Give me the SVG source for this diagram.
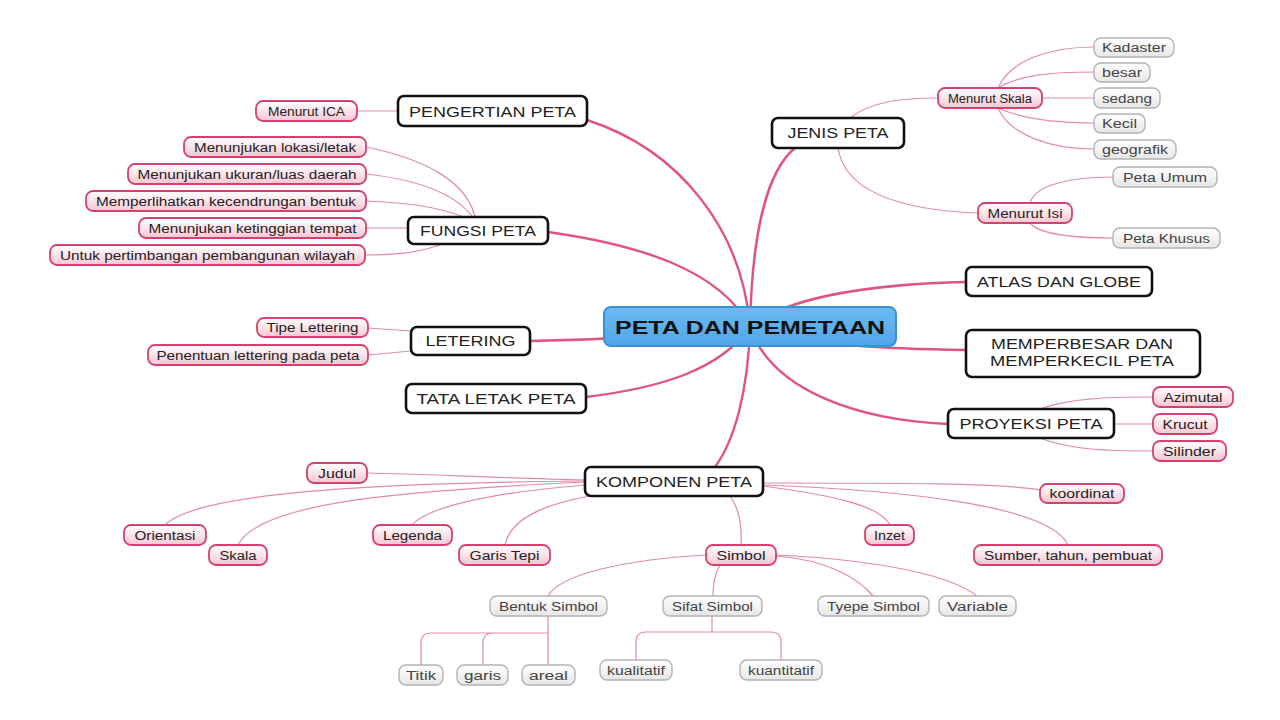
<svg xmlns="http://www.w3.org/2000/svg" width="1280" height="720" viewBox="0 0 1280 720">
<defs>
<linearGradient id="gPink" x1="0" y1="0" x2="0" y2="1"><stop offset="0" stop-color="#ffffff"/><stop offset="1" stop-color="#f7c6d3"/></linearGradient>
<linearGradient id="gGray" x1="0" y1="0" x2="0" y2="1"><stop offset="0" stop-color="#ffffff"/><stop offset="1" stop-color="#e6e6e6"/></linearGradient>
<linearGradient id="gBlue" x1="0" y1="0" x2="0" y2="1"><stop offset="0" stop-color="#6dbaf0"/><stop offset="1" stop-color="#50a6e8"/></linearGradient>
</defs>
<style>
text{font-family:"Liberation Sans",Arial,sans-serif;text-anchor:middle}
.main rect{fill:#fff;stroke:#111;stroke-width:2.6}
.main text{font-size:15px;fill:#222}
.pink rect{fill:url(#gPink);stroke:#d6416b;stroke-width:1.8}
.pink text{font-size:12px;fill:#222}
.gray rect{fill:url(#gGray);stroke:#b3b3b3;stroke-width:1.4}
.gray text{font-size:12px;fill:#444}
.center rect{fill:url(#gBlue);stroke:#3b8fd6;stroke-width:2}
.center text{font-size:19px;font-weight:bold;fill:#111}
.thick{fill:none;stroke:#e0557d;stroke-width:2.4}
.thin{fill:none;stroke:#e28ba4;stroke-width:1.2}
</style>
<rect width="1280" height="720" fill="#ffffff"/>
<g id="connectors">
<path class="thick" d="M750,327 C742,230 680,150 587,120"/>
<path class="thick" d="M750,327 C720,270 640,245 548,232"/>
<path class="thick" d="M750,327 C680,335 600,340 530,341"/>
<path class="thick" d="M750,327 C720,370 660,388 586,397"/>
<path class="thick" d="M750,327 C748,390 735,440 715,467"/>
<path class="thick" d="M750,327 C752,230 768,170 795,148"/>
<path class="thick" d="M750,327 C790,295 880,284 966,282"/>
<path class="thick" d="M750,327 C810,346 890,349 966,350"/>
<path class="thick" d="M750,327 C772,392 860,420 948,424"/>
<path class="thin" d="M398,111 L357,111"/>
<path class="thin" d="M476,222 C470,180 420,158 366,147"/>
<path class="thin" d="M476,222 C460,195 420,180 366,174"/>
<path class="thin" d="M476,222 C450,210 420,203 366,201"/>
<path class="thin" d="M408,228 L366,228"/>
<path class="thin" d="M440,245 C420,252 400,255 365,255"/>
<path class="thin" d="M411,331 L368,328"/>
<path class="thin" d="M411,351 L368,355"/>
<path class="thin" d="M850,118 C870,102 900,98 938,98"/>
<path class="thin" d="M838,148 C845,192 900,210 978,213"/>
<path class="thin" d="M998,88 C1010,60 1050,47 1094,47"/>
<path class="thin" d="M998,88 C1020,75 1050,72 1094,72"/>
<path class="thin" d="M1042,98 L1094,98"/>
<path class="thin" d="M998,108 C1020,118 1050,123 1094,123"/>
<path class="thin" d="M998,108 C1010,135 1050,149 1094,149"/>
<path class="thin" d="M1030,203 C1035,185 1070,177 1113,177"/>
<path class="thin" d="M1030,223 C1040,235 1080,238 1113,238"/>
<path class="thin" d="M1040,409 C1070,398 1110,397 1153,397"/>
<path class="thin" d="M1114,424 L1153,424"/>
<path class="thin" d="M1040,438 C1070,450 1110,451 1153,451"/>
<path class="thin" d="M585,480 C500,478 420,474 367,473"/>
<path class="thin" d="M585,481 C400,483 200,490 165,525"/>
<path class="thin" d="M585,482 C420,490 260,500 238,545"/>
<path class="thin" d="M585,485 C500,492 430,505 412,525"/>
<path class="thin" d="M590,496 C540,505 510,520 505,545"/>
<path class="thin" d="M730,496 C740,510 742,530 741,545"/>
<path class="thin" d="M763,486 C830,495 880,505 890,525"/>
<path class="thin" d="M763,483 C900,483 1000,483 1040,490"/>
<path class="thin" d="M763,485 C900,490 1050,505 1068,545"/>
<path class="thin" d="M706,555 C620,560 560,575 548,596"/>
<path class="thin" d="M720,565 C714,575 713,585 713,596"/>
<path class="thin" d="M776,556 C830,560 860,580 873,596"/>
<path class="thin" d="M776,555 C880,560 950,575 977,596"/>
<path class="thin" d="M548,616 L548,665 M548,633 L431,633 Q421,633 421,643 L421,665 M548,633 L493,633 Q483,633 483,643 L483,665"/>
<path class="thin" d="M712,616 L712,632 M646,632 L771,632 Q781,632 781,642 L781,660 M646,632 Q636,632 636,642 L636,660"/>
</g>
<g id="n-center" class="center"><rect x="604" y="307" width="292" height="39" rx="7"/><text x="750" y="334" textLength="270" lengthAdjust="spacingAndGlyphs">PETA DAN PEMETAAN</text></g>
<g id="n-pengertian" class="main"><rect x="398" y="96" width="189" height="30" rx="6"/><text x="492.5" y="117" textLength="167" lengthAdjust="spacingAndGlyphs">PENGERTIAN PETA</text></g>
<g id="n-fungsi" class="main"><rect x="408" y="217" width="140" height="27" rx="6"/><text x="478" y="236" textLength="116" lengthAdjust="spacingAndGlyphs">FUNGSI PETA</text></g>
<g id="n-letering" class="main"><rect x="411" y="327" width="119" height="28" rx="6"/><text x="470.5" y="346" textLength="90" lengthAdjust="spacingAndGlyphs">LETERING</text></g>
<g id="n-tataletak" class="main"><rect x="406" y="384" width="180" height="29" rx="6"/><text x="496" y="404" textLength="159" lengthAdjust="spacingAndGlyphs">TATA LETAK PETA</text></g>
<g id="n-komponen" class="main"><rect x="585" y="467" width="178" height="29" rx="6"/><text x="674" y="487" textLength="156" lengthAdjust="spacingAndGlyphs">KOMPONEN PETA</text></g>
<g id="n-jenis" class="main"><rect x="772" y="118" width="132" height="30" rx="6"/><text x="838" y="138" textLength="101" lengthAdjust="spacingAndGlyphs">JENIS PETA</text></g>
<g id="n-atlas" class="main"><rect x="966" y="267" width="186" height="29" rx="6"/><text x="1059" y="287" textLength="164" lengthAdjust="spacingAndGlyphs">ATLAS DAN GLOBE</text></g>
<g id="n-memperbesar" class="main"><rect x="966" y="330" width="234" height="47" rx="6"/><text x="1082" y="349" textLength="182" lengthAdjust="spacingAndGlyphs">MEMPERBESAR DAN</text><text x="1082" y="366" textLength="184" lengthAdjust="spacingAndGlyphs">MEMPERKECIL PETA</text></g>
<g id="n-proyeksi" class="main"><rect x="948" y="409" width="166" height="29" rx="6"/><text x="1031" y="429" textLength="143" lengthAdjust="spacingAndGlyphs">PROYEKSI PETA</text></g>
<g id="n-ica" class="pink"><rect x="256" y="101" width="101" height="20" rx="7"/><text x="306.5" y="115.5" textLength="77" lengthAdjust="spacingAndGlyphs">Menurut ICA</text></g>
<g id="n-lokasi" class="pink"><rect x="184" y="137" width="182" height="20" rx="7"/><text x="275" y="151.5" textLength="162" lengthAdjust="spacingAndGlyphs">Menunjukan lokasi/letak</text></g>
<g id="n-ukuran" class="pink"><rect x="128" y="164" width="238" height="20" rx="7"/><text x="247" y="178.5" textLength="219" lengthAdjust="spacingAndGlyphs">Menunjukan ukuran/luas daerah</text></g>
<g id="n-kecendrungan" class="pink"><rect x="86" y="191" width="280" height="20" rx="7"/><text x="226" y="205.5" textLength="260" lengthAdjust="spacingAndGlyphs">Memperlihatkan kecendrungan bentuk</text></g>
<g id="n-ketinggian" class="pink"><rect x="139" y="218" width="227" height="20" rx="7"/><text x="252.5" y="232.5" textLength="208" lengthAdjust="spacingAndGlyphs">Menunjukan ketinggian tempat</text></g>
<g id="n-untuk" class="pink"><rect x="50" y="245" width="315" height="20" rx="7"/><text x="207.5" y="259.5" textLength="295" lengthAdjust="spacingAndGlyphs">Untuk pertimbangan pembangunan wilayah</text></g>
<g id="n-tipe" class="pink"><rect x="257" y="318" width="111" height="19" rx="7"/><text x="312.5" y="332" textLength="92" lengthAdjust="spacingAndGlyphs">Tipe Lettering</text></g>
<g id="n-penentuan" class="pink"><rect x="148" y="345" width="220" height="20" rx="7"/><text x="258" y="359.5" textLength="203" lengthAdjust="spacingAndGlyphs">Penentuan lettering pada peta</text></g>
<g id="n-mskala" class="pink"><rect x="938" y="88" width="104" height="20" rx="7"/><text x="990" y="102.5" textLength="84" lengthAdjust="spacingAndGlyphs">Menurut Skala</text></g>
<g id="n-misi" class="pink"><rect x="978" y="203" width="94" height="20" rx="7"/><text x="1025" y="217.5" textLength="75" lengthAdjust="spacingAndGlyphs">Menurut Isi</text></g>
<g id="n-azimutal" class="pink"><rect x="1153" y="387" width="80" height="20" rx="7"/><text x="1193" y="401.5" textLength="59" lengthAdjust="spacingAndGlyphs">Azimutal</text></g>
<g id="n-krucut" class="pink"><rect x="1153" y="414" width="64" height="20" rx="7"/><text x="1185" y="428.5" textLength="45" lengthAdjust="spacingAndGlyphs">Krucut</text></g>
<g id="n-silinder" class="pink"><rect x="1153" y="441" width="73" height="20" rx="7"/><text x="1189.5" y="455.5" textLength="53" lengthAdjust="spacingAndGlyphs">Silinder</text></g>
<g id="n-judul" class="pink"><rect x="307" y="463" width="60" height="20" rx="7"/><text x="337" y="477.5" textLength="38" lengthAdjust="spacingAndGlyphs">Judul</text></g>
<g id="n-orientasi" class="pink"><rect x="124" y="525" width="82" height="20" rx="7"/><text x="165" y="539.5" textLength="61" lengthAdjust="spacingAndGlyphs">Orientasi</text></g>
<g id="n-skala" class="pink"><rect x="209" y="545" width="58" height="20" rx="7"/><text x="238" y="559.5" textLength="37" lengthAdjust="spacingAndGlyphs">Skala</text></g>
<g id="n-legenda" class="pink"><rect x="373" y="525" width="79" height="20" rx="7"/><text x="412.5" y="539.5" textLength="59" lengthAdjust="spacingAndGlyphs">Legenda</text></g>
<g id="n-garistepi" class="pink"><rect x="459" y="545" width="91" height="20" rx="7"/><text x="504.5" y="559.5" textLength="70" lengthAdjust="spacingAndGlyphs">Garis Tepi</text></g>
<g id="n-simbol" class="pink"><rect x="706" y="545" width="70" height="20" rx="7"/><text x="741" y="559.5" textLength="49" lengthAdjust="spacingAndGlyphs">Simbol</text></g>
<g id="n-inzet" class="pink"><rect x="865" y="525" width="49" height="20" rx="7"/><text x="889.5" y="539.5" textLength="31" lengthAdjust="spacingAndGlyphs">Inzet</text></g>
<g id="n-koordinat" class="pink"><rect x="1040" y="484" width="84" height="19" rx="7"/><text x="1082" y="498" textLength="65" lengthAdjust="spacingAndGlyphs">koordinat</text></g>
<g id="n-sumber" class="pink"><rect x="974" y="545" width="188" height="20" rx="7"/><text x="1068" y="559.5" textLength="168" lengthAdjust="spacingAndGlyphs">Sumber, tahun, pembuat</text></g>
<g id="n-kadaster" class="gray"><rect x="1094" y="38" width="80" height="19" rx="7"/><text x="1134" y="52" textLength="64" lengthAdjust="spacingAndGlyphs">Kadaster</text></g>
<g id="n-besar" class="gray"><rect x="1094" y="63" width="56" height="19" rx="7"/><text x="1122" y="77" textLength="40" lengthAdjust="spacingAndGlyphs">besar</text></g>
<g id="n-sedang" class="gray"><rect x="1094" y="88" width="66" height="20" rx="7"/><text x="1127" y="102.5" textLength="50" lengthAdjust="spacingAndGlyphs">sedang</text></g>
<g id="n-kecil" class="gray"><rect x="1094" y="114" width="51" height="19" rx="7"/><text x="1119.5" y="128" textLength="35" lengthAdjust="spacingAndGlyphs">Kecil</text></g>
<g id="n-geografik" class="gray"><rect x="1094" y="140" width="82" height="19" rx="7"/><text x="1135" y="154" textLength="66" lengthAdjust="spacingAndGlyphs">geografik</text></g>
<g id="n-petaumum" class="gray"><rect x="1113" y="167" width="104" height="20" rx="7"/><text x="1165" y="181.5" textLength="84" lengthAdjust="spacingAndGlyphs">Peta Umum</text></g>
<g id="n-petakhusus" class="gray"><rect x="1113" y="228" width="107" height="20" rx="7"/><text x="1166.5" y="242.5" textLength="87" lengthAdjust="spacingAndGlyphs">Peta Khusus</text></g>
<g id="n-bentuk" class="gray"><rect x="490" y="596" width="117" height="20" rx="7"/><text x="548.5" y="610.5" textLength="99" lengthAdjust="spacingAndGlyphs">Bentuk Simbol</text></g>
<g id="n-sifat" class="gray"><rect x="663" y="596" width="99" height="20" rx="7"/><text x="712.5" y="610.5" textLength="81" lengthAdjust="spacingAndGlyphs">Sifat Simbol</text></g>
<g id="n-tyepe" class="gray"><rect x="818" y="596" width="111" height="20" rx="7"/><text x="873.5" y="610.5" textLength="93" lengthAdjust="spacingAndGlyphs">Tyepe Simbol</text></g>
<g id="n-variable" class="gray"><rect x="939" y="596" width="77" height="20" rx="7"/><text x="977.5" y="610.5" textLength="61" lengthAdjust="spacingAndGlyphs">Variable</text></g>
<g id="n-titik" class="gray"><rect x="399" y="665" width="44" height="20" rx="7"/><text x="421" y="679.5" textLength="30" lengthAdjust="spacingAndGlyphs">Titik</text></g>
<g id="n-garis" class="gray"><rect x="457" y="665" width="51" height="20" rx="7"/><text x="482.5" y="679.5" textLength="37" lengthAdjust="spacingAndGlyphs">garis</text></g>
<g id="n-areal" class="gray"><rect x="522" y="665" width="53" height="20" rx="7"/><text x="548.5" y="679.5" textLength="39" lengthAdjust="spacingAndGlyphs">areal</text></g>
<g id="n-kualitatif" class="gray"><rect x="600" y="660" width="72" height="20" rx="7"/><text x="636" y="674.5" textLength="58" lengthAdjust="spacingAndGlyphs">kualitatif</text></g>
<g id="n-kuantitatif" class="gray"><rect x="740" y="660" width="82" height="20" rx="7"/><text x="781" y="674.5" textLength="66" lengthAdjust="spacingAndGlyphs">kuantitatif</text></g>
</svg>
